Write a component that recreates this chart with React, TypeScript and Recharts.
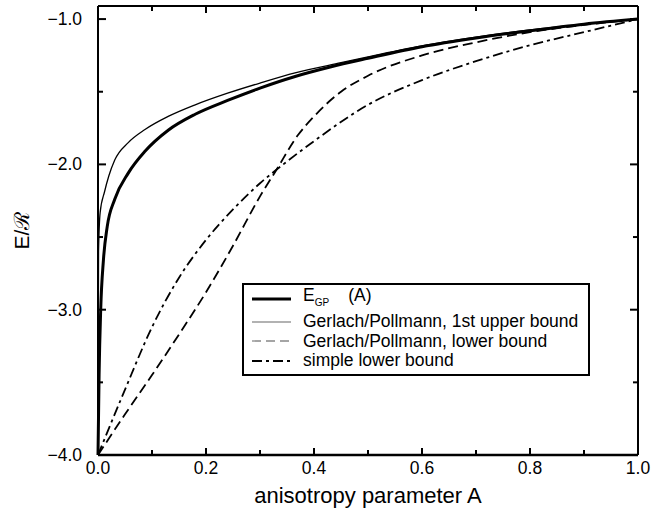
import React from 'react';
import { LineChart, Line, XAxis, YAxis, Legend } from 'recharts';

// anisotropy parameter A and energies E/R
const gpA = [0, 0.002, 0.005, 0.01, 0.017, 0.031, 0.056, 0.087, 0.13, 0.18, 0.24, 0.3, 0.365, 0.43, 0.5, 0.6, 0.7, 0.8, 0.9, 1.0];
const gpE = [-4.0, -3.45, -3.0, -2.66, -2.43, -2.24, -2.06, -1.91, -1.765, -1.655, -1.56, -1.475, -1.395, -1.33, -1.27, -1.19, -1.13, -1.08, -1.035, -1.0];

const upperA = [0, 0.001, 0.004, 0.012, 0.02, 0.031, 0.056, 0.087, 0.13, 0.18, 0.24, 0.3, 0.365, 0.45, 0.5, 0.6, 0.7, 0.8, 0.9, 1.0];
const upperE = [-4.0, -2.6, -2.33, -2.19, -2.08, -1.97, -1.85, -1.76, -1.67, -1.59, -1.51, -1.44, -1.37, -1.3, -1.26, -1.185, -1.125, -1.075, -1.035, -1.0];

const lowerA = [0, 0.05, 0.1, 0.15, 0.2, 0.25, 0.3, 0.33, 0.37, 0.4, 0.45, 0.5, 0.6, 0.7, 0.8, 0.9, 1.0];
const lowerE = [-4.0, -3.72, -3.45, -3.17, -2.88, -2.56, -2.22, -2.04, -1.8, -1.67, -1.5, -1.39, -1.25, -1.16, -1.09, -1.04, -1.0];

const simpleA = [0, 0.05, 0.1, 0.15, 0.2, 0.25, 0.3, 0.35, 0.4, 0.5, 0.6, 0.7, 0.8, 0.9, 1.0];
const simpleE = [-4.0, -3.55, -3.12, -2.78, -2.52, -2.31, -2.13, -1.98, -1.84, -1.59, -1.42, -1.29, -1.18, -1.09, -1.0];

const xTicks = [0, 0.1, 0.2, 0.3, 0.4, 0.5, 0.6, 0.7, 0.8, 0.9, 1.0];
const xTickLabels = ['0.0', '', '0.2', '', '0.4', '', '0.6', '', '0.8', '', '1.0'];
const yTicks = [-4, -3.5, -3, -2.5, -2, -1.5, -1];
const yTickLabels = ['\u22124.0', '', '\u22123.0', '', '\u22122.0', '', '\u22121.0'];

const zip = (a: number[], e: number[]) => a.map((v, i) => ({ a: v, e: e[i] }));

const FONT = '"Liberation Sans", Arial, Helvetica, sans-serif';
const M = 4;

const BottomTick = (props: any) => {
  const { x, y, index } = props;
  const ay = y - M;
  const major = xTickLabels[index] !== '';
  return (
    <g>
      <path d={`M${x},${ay}V${ay - (major ? 7 : 5)}`} stroke="#000" strokeWidth={2} fill="none" />
      <text x={x} y={ay + 19} textAnchor="middle" fontSize={17.5} fontFamily={FONT} fill="#000">
        {xTickLabels[index]}
      </text>
    </g>
  );
};

const TopTick = (props: any) => {
  const { x, y, index } = props;
  const ay = y + M;
  const major = xTickLabels[index] !== '';
  return <path d={`M${x},${ay}V${ay + (major ? 7 : 5)}`} stroke="#000" strokeWidth={2} fill="none" />;
};

const LeftTick = (props: any) => {
  const { x, y, index } = props;
  const ax = x + M;
  const major = yTickLabels[index] !== '';
  return (
    <g>
      <path d={`M${ax},${y}H${ax + (major ? 8 : 5)}`} stroke="#000" strokeWidth={2} fill="none" />
      <text x={ax - 16} y={y + 6} textAnchor="end" fontSize={17.5} fontFamily={FONT} fill="#000">
        {yTickLabels[index]}
      </text>
    </g>
  );
};

const RightTick = (props: any) => {
  const { x, y, index } = props;
  const ax = x - M;
  const major = yTickLabels[index] !== '';
  return <path d={`M${ax},${y}H${ax - (major ? 8 : 5)}`} stroke="#000" strokeWidth={2} fill="none" />;
};

const legendRows = [
  { key: 'gp', stroke: '#000', width: 3, dash: undefined },
  { key: 'upper', stroke: '#999', width: 1.3, dash: undefined },
  { key: 'lower', stroke: '#888', width: 1.3, dash: '9 5' },
  { key: 'simple', stroke: '#000', width: 1.8, dash: '10 4 3 4' },
];

const LegendBox = () => (
  <div
    style={{
      border: '2px solid #000',
      background: '#fff',
      padding: '1px 10px 3px 8px',
      fontFamily: FONT,
      fontSize: 17.5,
      lineHeight: '19.5px',
      width: 'max-content',
    }}
  >
    {legendRows.map((r) => (
      <div key={r.key} style={{ display: 'flex', alignItems: 'center', whiteSpace: 'nowrap' }}>
        <svg width={40} height={12} style={{ marginRight: 11, flexShrink: 0 }}>
          <line x1={0} x2={39} y1={6} y2={6} stroke={r.stroke} strokeWidth={r.width} strokeDasharray={r.dash} />
        </svg>
        {r.key === 'gp' ? (
          <span>
            E<sub style={{ fontSize: 10 }}>GP</sub>
            <span style={{ marginLeft: 19 }}>(A)</span>
          </span>
        ) : r.key === 'upper' ? (
          <span>Gerlach/Pollmann, 1st upper bound</span>
        ) : r.key === 'lower' ? (
          <span>Gerlach/Pollmann, lower bound</span>
        ) : (
          <span>simple lower bound</span>
        )}
      </div>
    ))}
  </div>
);

export default function App() {
  return (
    <div style={{ position: 'absolute', left: 0, top: 0, width: 651, height: 512, background: '#fff' }}>
      <LineChart width={651} height={512} margin={{ top: 5, right: 12, bottom: 0, left: 0 }}>
        <XAxis
          dataKey="a"
          type="number"
          domain={[0, 1]}
          ticks={xTicks}
          interval={0}
          tickSize={0}
          tickMargin={M}
          tickLine={false}
          tick={<BottomTick />}
          axisLine={{ stroke: '#000', strokeWidth: 2.5 }}
          height={57}
          label={{ value: 'anisotropy parameter A', position: 'insideBottom', offset: 9, fontSize: 22, fontFamily: FONT, fill: '#000' }}
        />
        <XAxis
          xAxisId="top"
          orientation="top"
          dataKey="a"
          type="number"
          domain={[0, 1]}
          ticks={xTicks}
          interval={0}
          tickSize={0}
          tickMargin={M}
          tickLine={false}
          tick={<TopTick />}
          axisLine={{ stroke: '#000', strokeWidth: 2 }}
          height={1}
        />
        <YAxis
          type="number"
          domain={[-4, -0.91]}
          ticks={yTicks}
          interval={0}
          allowDataOverflow
          tickSize={0}
          tickMargin={M}
          tickLine={false}
          tick={<LeftTick />}
          axisLine={{ stroke: '#000', strokeWidth: 2 }}
          width={98}
          label={{ value: 'E/\u211B', angle: -90, position: 'insideLeft', offset: 22, fontSize: 21, fontFamily: FONT, fill: '#000', style: { textAnchor: 'middle' } }}
        />
        <YAxis
          yAxisId="right"
          orientation="right"
          type="number"
          domain={[-4, -0.91]}
          ticks={yTicks}
          interval={0}
          allowDataOverflow
          tickSize={0}
          tickMargin={M}
          tickLine={false}
          tick={<RightTick />}
          axisLine={{ stroke: '#000', strokeWidth: 2 }}
          width={1}
        />
        <Line xAxisId="top" yAxisId="right" data={zip(simpleA, simpleE)} dataKey="e" type="monotone" stroke="#000" strokeWidth={1.8} strokeDasharray="10 4 3 4" dot={false} isAnimationActive={false} />
        <Line data={zip(lowerA, lowerE)} dataKey="e" type="monotone" stroke="#000" strokeWidth={1.8} strokeDasharray="10 5" dot={false} isAnimationActive={false} />
        <Line data={zip(upperA, upperE)} dataKey="e" type="monotone" stroke="#000" strokeWidth={1.3} dot={false} isAnimationActive={false} />
        <Line data={zip(gpA, gpE)} dataKey="e" type="monotone" stroke="#000" strokeWidth={3} dot={false} isAnimationActive={false} />
        <Legend
          layout="vertical"
          align="center"
          verticalAlign="middle"
          content={<LegendBox />}
          wrapperStyle={{ left: 242, top: 283, width: 'auto' }}
        />
      </LineChart>
    </div>
  );
}
